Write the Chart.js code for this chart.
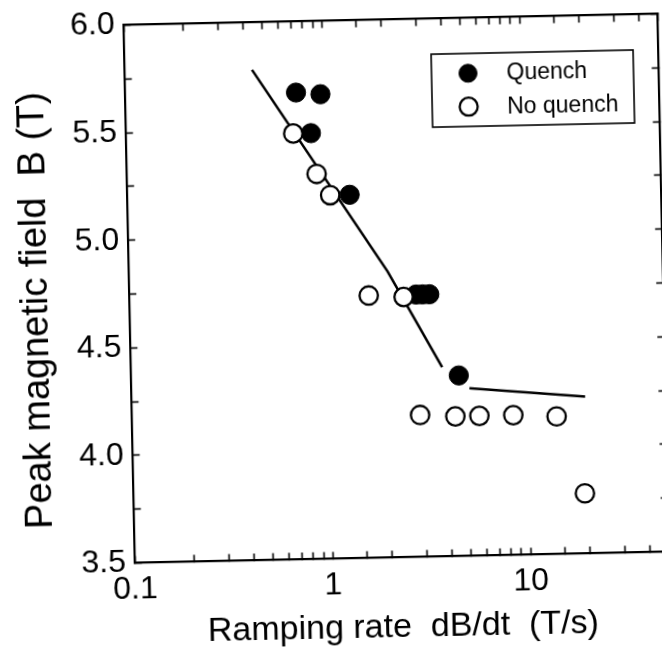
<!DOCTYPE html>
<html>
<head>
<meta charset="utf-8">
<script src="https://cdn.jsdelivr.net/npm/chart.js@4/dist/chart.umd.min.js"></script>
<style>
  html, body { margin: 0; padding: 0; background: #fff; overflow: hidden; width: 662px; height: 654px; }
  #wrap { position: absolute; left: 0; top: 0; width: 700px; height: 654px;
          transform: rotate(-1.2deg); transform-origin: 396.3px 288.5px; }
</style>
</head>
<body>
<div id="wrap"><canvas id="c" width="700" height="654"></canvas></div>
<script>
// Ramping-rate runs: peak field reached, with / without quench
const quenchRate    = [0.73, 0.97, 0.86, 1.33, 2.81, 3.03, 3.28, 4.53];
const quenchField   = [5.67, 5.66, 5.48, 5.19, 4.72, 4.72, 4.72, 4.34];
const noQuenchRate  = [0.70, 0.91, 1.06, 1.62, 2.43, 2.86, 4.31, 5.70, 8.46, 14.0, 19.1];
const noQuenchField = [5.48, 5.29, 5.19, 4.72, 4.71, 4.16, 4.15, 4.15, 4.15, 4.14, 3.78];

// Quench boundary guide line (null breaks the line between the two parts)
const boundaryRate  = [0.44, 2.03, 3.74, 4.40, 5.11, 19.6];
const boundaryField = [5.78, 4.83, 4.38, null, 4.28, 4.23];

// Axis ranges and labelled ticks
const rateRange  = [0.1, 50];
const fieldRange = [3.5, 6.0];
const fieldStep  = 0.25;
const legendOrder = ['Quench', 'No quench'];

const FONT = '"Liberation Sans", Arial, Helvetica, sans-serif';
const toPoints = (xs, ys) => xs.map((x, i) => ({ x: x, y: ys[i] }));
const isDecade = v => Math.abs(Math.log10(v) - Math.round(Math.log10(v))) < 1e-9;
const isHalf = v => Math.abs(v * 2 - Math.round(v * 2)) < 1e-9;

// Boxed legend in the upper right of the plot
const boxedLegend = {
  id: 'boxedLegend',
  afterDatasetsDraw(chart, args, o) {
    const ctx = chart.ctx, area = chart.chartArea;
    const left = area.right - o.offsetRight - o.width;
    const top = area.top + o.offsetTop;
    ctx.save();
    ctx.fillStyle = '#fff';
    ctx.fillRect(left, top, o.width, o.height);
    ctx.strokeStyle = '#000';
    ctx.lineWidth = 1.6;
    ctx.strokeRect(left, top, o.width, o.height);
    ctx.font = o.fontSize + 'px ' + FONT;
    ctx.textBaseline = 'middle';
    ctx.textAlign = 'left';
    o.items.forEach((label, i) => {
      const ds = chart.data.datasets.find(d => d.label === label);
      const cy = top + o.firstRow + i * o.rowGap;
      const cx = left + o.markerX;
      ctx.beginPath();
      ctx.arc(cx, cy, o.markerRadius, 0, Math.PI * 2);
      ctx.fillStyle = ds.backgroundColor;
      ctx.fill();
      ctx.lineWidth = ds.borderWidth;
      ctx.strokeStyle = ds.borderColor;
      ctx.stroke();
      ctx.fillStyle = '#000';
      ctx.fillText(label, left + o.textX, cy + 1);
    });
    ctx.restore();
  }
};

// Fixed axis boxes so the plot frame sits at a set place on the canvas
const fixBox = (w, h) => s => {
  if (w !== null) s.width = w;
  if (h !== null) s.height = h;
  s.paddingTop = 0; s.paddingBottom = 0; s.paddingLeft = 0; s.paddingRight = 0;
};

const axisBorder = { color: '#000', width: 2.2 };
const inwardGrid = { drawOnChartArea: false, color: '#000', tickColor: '#000', tickLength: -7, tickWidth: 1.6 };

new Chart(document.getElementById('c'), {
  type: 'scatter',
  data: {
    datasets: [
      {
        label: 'No quench',
        data: toPoints(noQuenchRate, noQuenchField),
        pointRadius: 9.2, pointHoverRadius: 9.2,
        backgroundColor: '#fff', borderColor: '#000', borderWidth: 2.3,
        order: 1
      },
      {
        label: 'Quench',
        data: toPoints(quenchRate, quenchField),
        pointRadius: 9.6, pointHoverRadius: 9.6,
        backgroundColor: '#000', borderColor: '#000', borderWidth: 1,
        order: 2
      },
      {
        label: 'Boundary',
        data: toPoints(boundaryRate, boundaryField),
        showLine: true, spanGaps: false, tension: 0,
        pointRadius: 0, borderColor: '#000', borderWidth: 2.5,
        order: 3
      }
    ]
  },
  options: {
    responsive: false,
    devicePixelRatio: 1,
    animation: false,
    events: [],
    layout: { padding: { top: 19.5, right: 36.7, bottom: 0, left: 0 } },
    plugins: {
      legend: { display: false },
      tooltip: { enabled: false },
      boxedLegend: {
        items: legendOrder,
        offsetRight: 25.3, offsetTop: 35.5, width: 202, height: 73,
        markerX: 36.5, markerRadius: 9, firstRow: 19.8, rowGap: 33.4,
        textX: 75, fontSize: 23
      }
    },
    scales: {
      x: {
        type: 'logarithmic', position: 'bottom',
        min: rateRange[0], max: rateRange[1],
        border: axisBorder, grid: inwardGrid,
        ticks: {
          autoSkip: false, maxRotation: 0, padding: 14, color: '#000',
          font: { family: FONT, size: 32 },
          callback: v => isDecade(v) ? String(+Number(v).toPrecision(3)) : ''
        },
        title: {
          display: true, text: 'Ramping rate  dB/dt  (T/s)', color: '#000',
          font: { family: FONT, size: 34 }, padding: { top: 0, bottom: 6 }
        },
        afterFit: fixBox(null, 96.5)
      },
      xTop: {
        type: 'logarithmic', position: 'top',
        min: rateRange[0], max: rateRange[1],
        border: axisBorder, grid: inwardGrid,
        ticks: { display: false, autoSkip: false },
        afterFit: fixBox(null, 0)
      },
      y: {
        position: 'left', min: fieldRange[0], max: fieldRange[1],
        border: axisBorder, grid: inwardGrid,
        ticks: {
          stepSize: fieldStep, autoSkip: false, padding: 16, color: '#000',
          font: { family: FONT, size: 32 },
          callback: v => isHalf(v) ? Number(v).toFixed(1) : ''
        },
        title: {
          display: true, text: 'Peak magnetic field  B (T)  \u2009', color: '#000',
          font: { family: FONT, size: 38 }, padding: { top: 14, bottom: 0 }
        },
        afterFit: fixBox(129.3, null)
      },
      yRight: {
        position: 'right', min: fieldRange[0], max: fieldRange[1],
        border: axisBorder, grid: inwardGrid,
        ticks: { display: false, stepSize: fieldStep, autoSkip: false },
        afterFit: fixBox(0, null)
      }
    }
  },
  plugins: [boxedLegend]
});
</script>
</body>
</html>
